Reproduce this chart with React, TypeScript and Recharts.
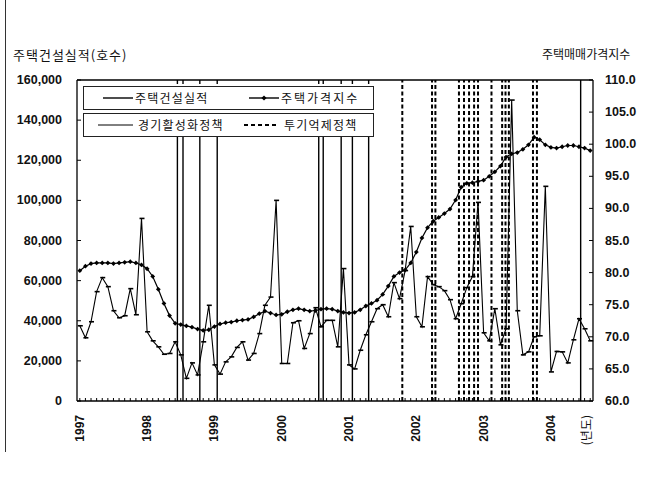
import React from "react";
import {
  LineChart,
  Line,
  XAxis,
  YAxis,
  ReferenceLine
} from "recharts";

// monthly, Jan 1997 .. Aug 2004
const construction = [
  37500, 31500, 39500, 54500, 61500, 57000, 45000, 41500, 42500, 56000, 43000, 91000,
  34500, 30000, 27000, 23300, 23700, 29500, 23000, 11300, 19000, 13000, 29500, 47700,
  18000, 13400, 19500, 22000, 26700, 29500, 20400, 23700, 33600, 47700, 51800, 100000,
  18700, 18700, 39000, 40000, 26200, 33600, 46500, 37000, 40200, 40200, 27000, 66000,
  18000, 16000, 25300, 33000, 39500, 46000, 48000, 42000, 59000, 51000, 65000, 87000,
  42000, 37000, 62000, 58000, 57000, 55000, 50500, 41000, 48500, 56500, 62000, 99000,
  34000, 30000, 46000, 28000, 36000, 150000, 45000, 23000, 24500, 32000, 32500, 107000,
  14500, 24700, 24500, 19000, 30500, 41000, 36000, 30000
];

const priceIndex = [
  80.3, 81.0, 81.4, 81.5, 81.5, 81.5, 81.4, 81.5, 81.6, 81.7, 81.5, 81.2,
  80.6, 79.4, 77.4, 75.2, 73.3, 72.1, 71.9, 71.7, 71.5, 71.2, 71.0, 71.1,
  71.6, 72.0, 72.2, 72.3, 72.5, 72.6, 72.7, 73.1, 73.6, 74.0, 73.7, 73.4,
  73.5, 73.9, 74.2, 74.4, 74.2, 74.0, 74.1, 74.3, 74.4, 74.3, 74.0, 73.8,
  73.7, 73.8, 74.2, 74.8, 75.2, 75.7, 76.6, 77.9, 79.4, 80.0, 80.4, 81.5,
  83.2, 85.4, 87.0, 88.0, 88.6, 89.2, 89.9, 91.3, 93.3, 93.9, 94.0, 94.2,
  94.4, 95.0, 95.7, 96.6, 98.0, 98.5, 98.7, 99.2, 99.9, 101.1, 100.7, 99.9,
  99.5, 99.4, 99.6, 99.8, 99.8, 99.6, 99.4, 99.0
];

// policy announcements, in months since Jan 1997
const stimulusPolicy = [17.4, 18.4, 21.4, 24.5, 42.6, 43.4, 46.6, 48.6, 51.5, 89.3];
const suppressPolicy = [
  57.5, 62.8, 63.4, 67.6, 68.5, 69.4, 70.3, 71.0, 73.4, 75.3, 75.9, 76.5, 80.8, 81.5
];

const startYear = 1997;
const leftTicks = [0, 20000, 40000, 60000, 80000, 100000, 120000, 140000, 160000];
const rightTicks = [60, 65, 70, 75, 80, 85, 90, 95, 100, 105, 110];
const unitLabel = "(년도)";

const data = construction.map((c, i) => ({ i, construction: c, price: priceIndex[i] }));
const monthTicks = construction.map((_, i) => i);

const numFont = "'Liberation Sans', Arial, sans-serif";
const krFont = "'Noto Sans CJK KR', 'Noto Sans', sans-serif";

const MonthTick = (props: any) => {
  const { x, y, payload } = props;
  const i = payload.value;
  let label: string | null = null;
  let dx = 0;
  if (i % 12 === 0) label = String(startYear + i / 12);
  if (i === monthTicks.length - 1) {
    label = unitLabel;
    dx = -5;
  }
  const ty = y + 14;
  return (
    <g>
      <line x1={x} y1={y} x2={x} y2={y - 3} stroke="#000" />
      {label && (
        <text
          x={x + dx}
          y={ty}
          transform={`rotate(-90, ${x + dx}, ${ty})`}
          textAnchor="end"
          dominantBaseline="central"
          fontFamily={label === unitLabel ? krFont : numFont}
          fontWeight={label === unitLabel ? 400 : 700}
          fontSize={12}
          fill="#111"
        >
          {label}
        </text>
      )}
    </g>
  );
};

const LeftTick = (props: any) => {
  const { x, y, payload } = props;
  return (
    <g>
      <line x1={x} y1={y} x2={x + 4} y2={y} stroke="#000" />
      <text
        x={x - 15}
        y={y}
        textAnchor="end"
        dominantBaseline="central"
        fontFamily={numFont}
        fontWeight={700}
        fontSize={12.5}
        fill="#111"
      >
        {payload.value.toLocaleString("en-US")}
      </text>
    </g>
  );
};

const RightTick = (props: any) => {
  const { x, y, payload } = props;
  return (
    <g>
      <line x1={x} y1={y} x2={x - 4} y2={y} stroke="#000" />
      <text
        x={x + 12}
        y={y}
        textAnchor="start"
        dominantBaseline="central"
        fontFamily={numFont}
        fontWeight={700}
        fontSize={12.5}
        fill="#111"
      >
        {payload.value.toFixed(1)}
      </text>
    </g>
  );
};

const DashDot = (props: any) => {
  const { cx, cy } = props;
  if (cx == null || cy == null) return null;
  return <line x1={cx - 2} y1={cy} x2={cx + 3} y2={cy} stroke="#000" strokeWidth={1.6} />;
};

const DiamondDot = (props: any) => {
  const { cx, cy } = props;
  if (cx == null || cy == null) return null;
  const r = 2.4;
  return (
    <polygon
      points={`${cx},${cy - r} ${cx + r},${cy} ${cx},${cy + r} ${cx - r},${cy}`}
      fill="#000"
    />
  );
};

const legendText = { fontFamily: krFont, fontSize: 12, letterSpacing: 1.2, color: "#111" };

function LegendBoxes() {
  const box = {
    position: "absolute" as const,
    left: 0,
    width: 289,
    height: 22,
    border: "1px solid #222",
    background: "#fff"
  };
  return (
    <div style={{ position: "absolute", left: 83, top: 84, width: 291, height: 53, background: "#fff" }}>
      <div style={{ ...box, top: 2 }}>
        <svg width={289} height={22} style={{ position: "absolute", left: 0, top: 0 }}>
          <line x1={19} y1={11} x2={49} y2={11} stroke="#000" strokeWidth={1.4} />
          <line x1={165} y1={11} x2={195} y2={11} stroke="#000" strokeWidth={1.4} />
          <polygon points="180,8.4 182.6,11 180,13.6 177.4,11" fill="#000" />
        </svg>
        <span style={{ ...legendText, position: "absolute", left: 51, top: 2 }}>주택건설실적</span>
        <span style={{ ...legendText, position: "absolute", left: 197, top: 2, letterSpacing: 2 }}>주택가격지수</span>
      </div>
      <div style={{ ...box, top: 29 }}>
        <svg width={289} height={22} style={{ position: "absolute", left: 0, top: 0 }}>
          <line x1={14} y1={11} x2={49} y2={11} stroke="#000" strokeWidth={1} />
          <line x1={160} y1={11} x2={194} y2={11} stroke="#000" strokeWidth={2} strokeDasharray="4 3" />
        </svg>
        <span style={{ ...legendText, position: "absolute", left: 54, top: 2 }}>경기활성화정책</span>
        <span style={{ ...legendText, position: "absolute", left: 200, top: 2 }}>투기억제정책</span>
      </div>
    </div>
  );
}

export default function App() {
  return (
    <div style={{ position: "absolute", left: 0, top: 0, width: 651, height: 491, background: "#fff" }}>
      <div style={{ position: "absolute", left: 5, top: 0, width: 0, height: 452, borderLeft: "1px solid #333" }} />
      <div style={{ position: "absolute", left: 13, top: 45, fontFamily: krFont, fontSize: 13, letterSpacing: 1, color: "#111", whiteSpace: "nowrap" }}>
        주택건설실적(호수)
      </div>
      <div style={{ position: "absolute", left: 542, top: 45, fontFamily: krFont, fontSize: 12, color: "#111", whiteSpace: "nowrap" }}>
        주택매매가격지수
      </div>
      <LineChart
        width={651}
        height={491}
        data={data}
        margin={{ top: 80, right: 0, bottom: 40, left: 0 }}
      >
        <XAxis
          dataKey="i"
          type="number"
          domain={[-0.5, monthTicks.length - 0.5]}
          ticks={monthTicks}
          interval={0}
          tick={<MonthTick />}
          tickLine={false}
          tickSize={0}
          tickMargin={0}
          height={50}
          axisLine={{ stroke: "#000", strokeWidth: 1.3 }}
        />
        <YAxis
          yAxisId="left"
          domain={[0, 160000]}
          ticks={leftTicks}
          interval={0}
          width={77}
          tick={<LeftTick />}
          tickLine={false}
          tickSize={0}
          tickMargin={0}
          axisLine={{ stroke: "#000", strokeWidth: 1.3 }}
        />
        <YAxis
          yAxisId="right"
          orientation="right"
          domain={[60, 110]}
          ticks={rightTicks}
          interval={0}
          width={58}
          tick={<RightTick />}
          tickLine={false}
          tickSize={0}
          tickMargin={0}
          axisLine={{ stroke: "#000", strokeWidth: 1.3 }}
        />
        <ReferenceLine yAxisId="left" y={160000} stroke="#000" strokeWidth={1.6} />
        {stimulusPolicy.map((p) => (
          <ReferenceLine key={"s" + p} yAxisId="left" x={p} stroke="#000" strokeWidth={1.4} />
        ))}
        {suppressPolicy.map((p) => (
          <ReferenceLine
            key={"d" + p}
            yAxisId="left"
            x={p}
            stroke="#000"
            strokeWidth={2}
            strokeDasharray="4 2.5"
          />
        ))}
        <Line
          yAxisId="left"
          dataKey="construction"
          stroke="#000"
          strokeWidth={1.1}
          dot={<DashDot />}
          activeDot={false}
          isAnimationActive={false}
        />
        <Line
          yAxisId="right"
          dataKey="price"
          stroke="#000"
          strokeWidth={1.2}
          dot={<DiamondDot />}
          activeDot={false}
          isAnimationActive={false}
        />
      </LineChart>
      <LegendBoxes />
    </div>
  );
}
